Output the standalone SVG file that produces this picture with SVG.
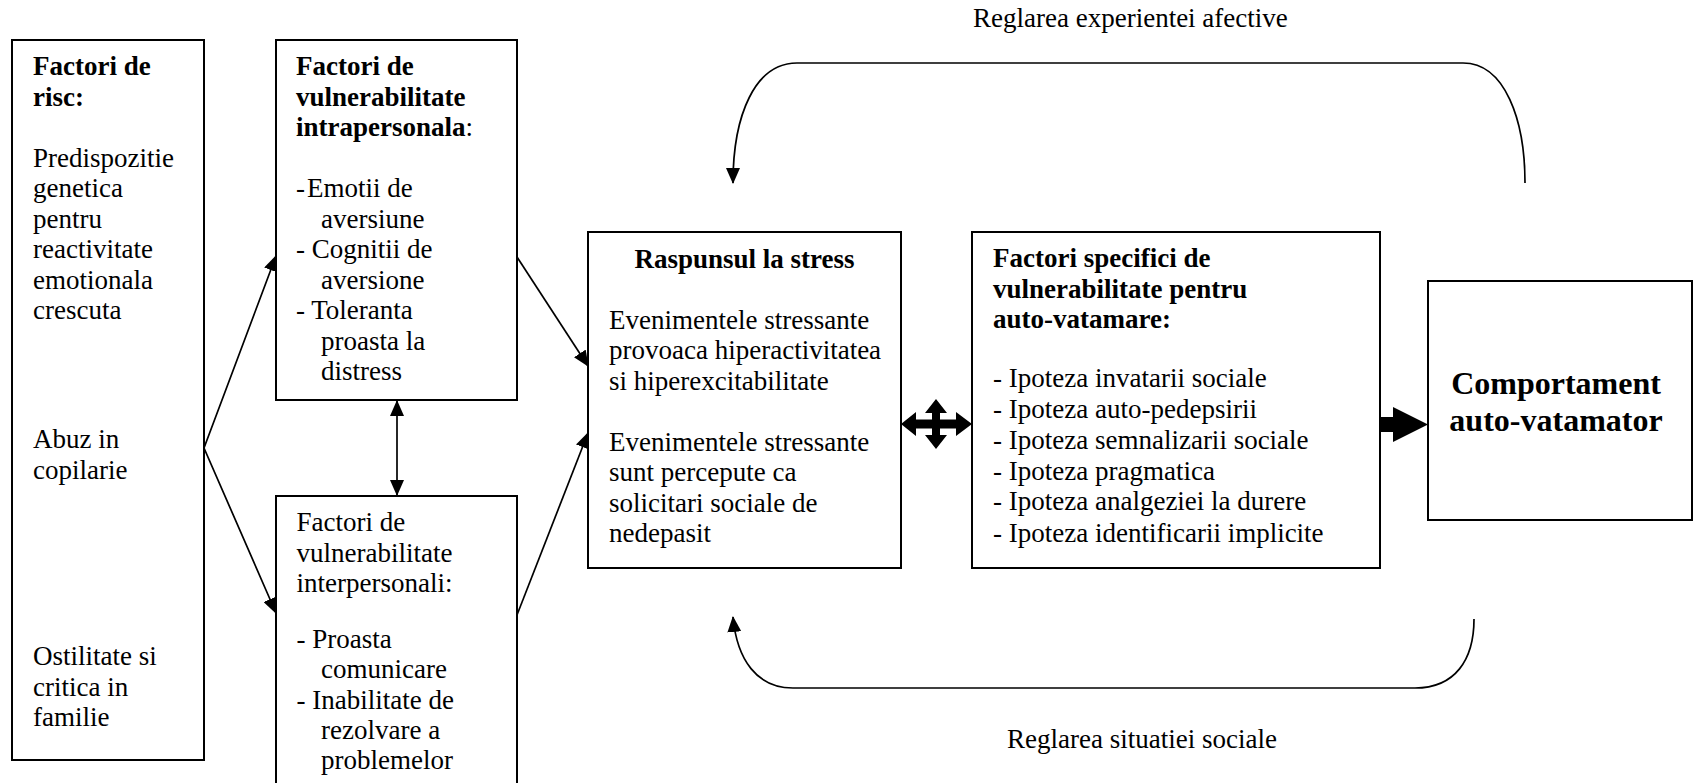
<svg xmlns="http://www.w3.org/2000/svg" width="1697" height="783" viewBox="0 0 1697 783">
<style>
.box{fill:#fff;stroke:#000;stroke-width:2}
.t{font-family:"Liberation Serif","Times New Roman",serif;font-size:27px;fill:#000}
.b{font-weight:bold}
.big{font-size:32px;font-weight:bold}
.ln{fill:none;stroke:#000;stroke-width:1.7}
.fill{fill:#000;stroke:none}
</style>
<defs>
<marker id="ah" viewBox="0 0 16 14" refX="15" refY="7" markerWidth="16" markerHeight="14" markerUnits="userSpaceOnUse" orient="auto-start-reverse">
<path d="M0,0 L16,7 L0,14 Z" fill="#000"/>
</marker>
</defs>
<rect width="1697" height="783" fill="#fff"/>

<g id="connectors">
<polyline class="ln" points="276,256 204,448 276,613" marker-start="url(#ah)" marker-end="url(#ah)"/>
<line class="ln" x1="517" y1="257" x2="588" y2="366" marker-end="url(#ah)"/>
<line class="ln" x1="517" y1="615" x2="588" y2="433" marker-end="url(#ah)"/>
<line class="ln" x1="397" y1="401" x2="397" y2="495" marker-start="url(#ah)" marker-end="url(#ah)"/>
<polygon class="fill" points="901,424 916,412 916,419.5 932,419.5 932,413 925,413 936,399 947,413 940,413 940,419.5 956,419.5 956,412 972,424 956,436 956,428.5 940,428.5 940,435 947,435 936,449 925,435 932,435 932,428.5 916,428.5 916,436"/>
<polygon class="fill" points="1380,417 1393,417 1393,407 1428,424.5 1393,442 1393,432 1380,432"/>
<path class="ln" d="M1525,183 C1525,120 1505,63 1463,63 L797,63 C755,63 733,115 733,183" marker-end="url(#ah)"/>
<path class="ln" d="M1474,619 C1474,660 1455,688 1415,688 L793,688 C757,688 737,660 733,617" marker-end="url(#ah)"/>
<text class="t" x="973" y="27">Reglarea experientei afective</text>
<text class="t" x="1007" y="748">Reglarea situatiei sociale</text>
</g>

<g id="risc">
<rect class="box" x="12" y="40" width="192" height="720"/>
<text class="t b" x="33" y="75">Factori de</text>
<text class="t b" x="33" y="105.5">risc:</text>
<text class="t" x="33" y="166.5">Predispozitie</text>
<text class="t" x="33" y="197">genetica</text>
<text class="t" x="33" y="227.5">pentru</text>
<text class="t" x="33" y="258">reactivitate</text>
<text class="t" x="33" y="288.5">emotionala</text>
<text class="t" x="33" y="319">crescuta</text>
<text class="t" x="33" y="448">Abuz in</text>
<text class="t" x="33" y="478.5">copilarie</text>
<text class="t" x="33" y="665">Ostilitate si</text>
<text class="t" x="33" y="695.5">critica in</text>
<text class="t" x="33" y="726">familie</text>
</g>

<g id="intrapersonal">
<rect class="box" x="276" y="40" width="241" height="360"/>
<text class="t b" x="296" y="75">Factori de</text>
<text class="t b" x="296" y="105.5">vulnerabilitate</text>
<text class="t" x="296" y="136"><tspan class="b">intrapersonala</tspan>:</text>
<text class="t" x="296" y="197">-</text>
<text class="t" x="307" y="197">Emotii de</text>
<text class="t" x="321" y="227.5">aversiune</text>
<text class="t" x="296" y="258">- Cognitii de</text>
<text class="t" x="321" y="288.5">aversione</text>
<text class="t" x="296" y="319">- Toleranta</text>
<text class="t" x="321" y="349.5">proasta la</text>
<text class="t" x="321" y="380">distress</text>
</g>

<g id="interpersonal">
<rect class="box" x="276" y="496" width="241" height="300"/>
<text class="t" x="296.5" y="531">Factori de</text>
<text class="t" x="296.5" y="561.5">vulnerabilitate</text>
<text class="t" x="296.5" y="592">interpersonali:</text>
<text class="t" x="296.5" y="648">- Proasta</text>
<text class="t" x="321" y="678">comunicare</text>
<text class="t" x="296.5" y="708.5">- Inabilitate de</text>
<text class="t" x="321" y="739">rezolvare a</text>
<text class="t" x="321" y="769">problemelor</text>
</g>

<g id="stress">
<rect class="box" x="588" y="232" width="313" height="336"/>
<text class="t b" x="744.5" y="268" text-anchor="middle">Raspunsul la stress</text>
<text class="t" x="609" y="328.5">Evenimentele stressante</text>
<text class="t" x="609" y="359">provoaca hiperactivitatea</text>
<text class="t" x="609" y="389.5">si hiperexcitabilitate</text>
<text class="t" x="609" y="450.5">Evenimentele stressante</text>
<text class="t" x="609" y="481">sunt percepute ca</text>
<text class="t" x="609" y="511.5">solicitari sociale de</text>
<text class="t" x="609" y="542">nedepasit</text>
</g>

<g id="specifici">
<rect class="box" x="972" y="232" width="408" height="336"/>
<text class="t b" x="993" y="267">Factori specifici de</text>
<text class="t b" x="993" y="297.5">vulnerabilitate pentru</text>
<text class="t b" x="993" y="328">auto-vatamare:</text>
<text class="t" x="993" y="387">- Ipoteza invatarii sociale</text>
<text class="t" x="993" y="418">- Ipoteza auto-pedepsirii</text>
<text class="t" x="993" y="448.5">- Ipoteza semnalizarii sociale</text>
<text class="t" x="993" y="479.5">- Ipoteza pragmatica</text>
<text class="t" x="993" y="510">- Ipoteza analgeziei la durere</text>
<text class="t" x="993" y="541.5">- Ipoteza identificarii implicite</text>
</g>

<g id="comportament">
<rect class="box" x="1428" y="281" width="264" height="239"/>
<text class="t big" x="1556" y="394" text-anchor="middle">Comportament</text>
<text class="t big" x="1556" y="431" text-anchor="middle">auto-vatamator</text>
</g>
</svg>
